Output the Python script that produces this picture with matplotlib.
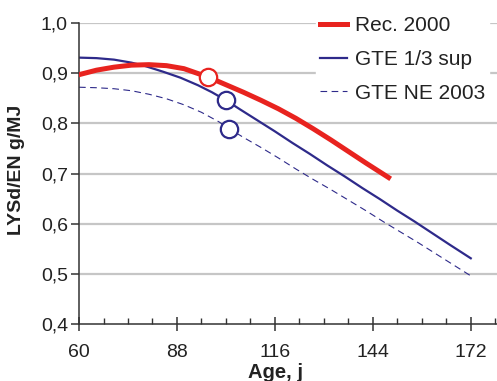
import numpy as np
import matplotlib.pyplot as plt
from matplotlib.ticker import FuncFormatter

plt.rcParams['font.family'] = ['Liberation Sans', 'DejaVu Sans']

# Rec. 2000
rec_x = [60, 65, 70, 75, 80, 85, 90, 97, 102, 107, 112, 117, 122, 127, 132, 137, 142, 148.5]
rec_y = [0.897, 0.906, 0.912, 0.916, 0.917, 0.915, 0.909, 0.892, 0.877, 0.862, 0.846, 0.829,
         0.810, 0.789, 0.767, 0.744, 0.721, 0.692]
rec_mark = (97, 0.892)

# GTE 1/3 sup
sup_x = [60, 65, 70, 75, 79, 84, 89, 94, 98, 102, 106, 111, 116, 121, 126, 131, 136, 141,
         146, 151, 156, 161, 166, 172]
sup_y = [0.931, 0.930, 0.927, 0.921, 0.914, 0.903, 0.891, 0.876, 0.862, 0.846, 0.828, 0.806,
         0.784, 0.761, 0.739, 0.716, 0.694, 0.671, 0.649, 0.626, 0.604, 0.581, 0.558, 0.531]
sup_mark = (102, 0.846)

# GTE NE 2003
ne_x = [60, 65, 70, 75, 80, 85, 90, 95, 100, 103, 107, 112, 117, 122, 127, 132, 137, 142,
        147, 152, 157, 162, 167, 172]
ne_y = [0.872, 0.871, 0.869, 0.865, 0.858, 0.849, 0.837, 0.822, 0.803, 0.789, 0.772, 0.752,
        0.731, 0.709, 0.688, 0.668, 0.647, 0.626, 0.604, 0.583, 0.562, 0.540, 0.518, 0.496]
ne_mark = (103, 0.789)

x_ticks = [60, 88, 116, 144, 172]
y_ticks = [0.4, 0.5, 0.6, 0.7, 0.8, 0.9, 1.0]

red = '#e8231f'
navy = '#2e2a8a'

fig = plt.figure(figsize=(4.97, 3.81), dpi=100)
ax = fig.add_axes([0.159, 0.1496, 0.841, 0.790])

for yv in y_ticks[1:]:
    ax.axhline(yv, color='#c6c6c6', lw=1.6, zorder=0)

l1, = ax.plot(rec_x, rec_y, color=red, lw=3.6, label='Rec. 2000', zorder=3)
l2, = ax.plot(sup_x, sup_y, color=navy, lw=1.6, label='GTE 1/3 sup', zorder=2)
l3, = ax.plot(ne_x, ne_y, color=navy, lw=0.8, ls=(0, (6, 4)), label='GTE NE 2003', zorder=2)

ax.plot(*rec_mark, 'o', ms=12.5, mfc='white', mec=red, mew=1.6, zorder=5)
ax.plot(*sup_mark, 'o', ms=12.5, mfc='white', mec=navy, mew=1.6, zorder=5)
ax.plot(*ne_mark, 'o', ms=12.5, mfc='white', mec=navy, mew=1.6, zorder=5)

ax.set_xlim(60, 179.5)
ax.set_ylim(0.4, 1.0)
ax.set_xticks(x_ticks)
ax.set_xticks(np.arange(60, 180, 7), minor=True)
ax.set_yticks(y_ticks)
ax.yaxis.set_major_formatter(FuncFormatter(lambda v, p: f'{v:.1f}'.replace('.', ',')))

for s in ['top', 'right']:
    ax.spines[s].set_visible(False)
for s in ['left', 'bottom']:
    ax.spines[s].set_color('#333333')
    ax.spines[s].set_linewidth(1.1)

ax.tick_params(axis='x', which='major', direction='inout', length=10, width=1.1, color='#333333',
               labelsize=14, pad=9.5, labelcolor='#222222')
ax.tick_params(axis='x', which='minor', direction='in', length=4.5, width=1.0, color='#333333')
ax.tick_params(axis='y', which='major', direction='out', length=6, width=1.1, color='#333333',
               labelsize=14, pad=2, labelcolor='#222222')

ax.set_xlabel('Age, j', fontsize=14.5, fontweight='bold', color='#222222', va='top')
ax.xaxis.set_label_coords(0.469, -0.13)
ax.set_ylabel('LYSd/EN g/MJ', fontsize=14, fontweight='bold', color='#222222')
ax.yaxis.set_label_coords(-0.129, 0.512)

leg = fig.legend(handles=[l1, l2, l3], loc='upper left', bbox_to_anchor=(0.636, 0.968),
                 bbox_transform=fig.transFigure, borderaxespad=0,
                 frameon=True, fontsize=15, handlelength=1.3, handletextpad=0.35,
                 labelspacing=0.7, borderpad=0.2)
leg.get_frame().set_edgecolor('white')
leg.get_frame().set_facecolor('white')
leg.get_frame().set_alpha(1)
for t in leg.get_texts():
    t.set_color('#222222')

fig.savefig('out.png', dpi=100)
